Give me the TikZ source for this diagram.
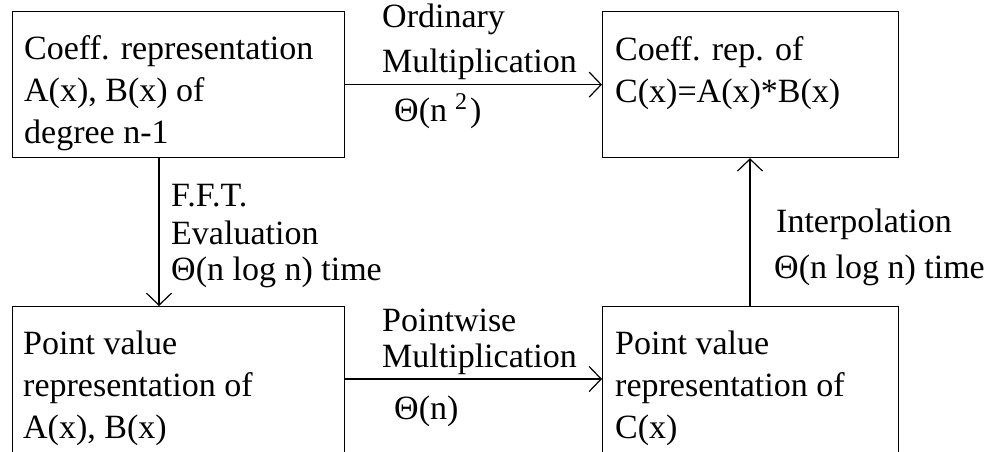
\documentclass[tikz,border=0pt]{standalone}
\usepackage{fontspec}
\setmainfont{Liberation Serif}
\usetikzlibrary{arrows.meta}
\newcommand\mlines[1]{\begin{tabular}[t]{@{}l@{}}#1\end{tabular}}
\tikzset{
  box/.style={draw=black, line width=1.2pt, minimum width=#1, minimum height=146pt, anchor=north west, inner sep=0pt},
  txt/.style={anchor=base west, inner sep=0pt, font=\fontsize{34}{42}\selectfont},
  arr/.style={draw=black, line width=1.2pt, -{Straight Barb[length=12pt,width=25pt,line width=1.2pt]}}
}
\begin{document}
\begin{tikzpicture}[x=1pt,y=1pt]
\useasboundingbox (0,0) rectangle (992,-451);
\clip (0,0) rectangle (992,-451);
% boxes
\node[box=332pt] (A) at (12,-11) {};
\node[box=296pt] (B) at (602,-11) {};
\node[box=332pt] (C) at (12,-306) {};
\node[box=296pt] (D) at (602,-306) {};
% box texts
\node[txt] (tA) at (24,-59) {\mlines{Coeff. representation\\A(x), B(x) of\\degree n-1}};
\node[txt] (tB) at (615,-60) {\mlines{Coeff. rep. of\\C(x)=A(x)*B(x)}};
\node[txt] (tC) at (23,-354) {\mlines{Point value\\representation of\\A(x), B(x)}};
\node[txt] (tD) at (615,-354) {\mlines{Point value\\representation of\\C(x)}};
% connectors
\coordinate (fx) at (159,0);
\coordinate (ix) at (750,0);
\coordinate (py) at (0,-379);
\draw[arr] (A.east) -- (B.west);
\draw[arr] (C.east |- py) -- (D.west |- py);
\draw[arr] (A.south -| fx) -- (C.north -| fx);
\draw[arr] (D.north -| ix) -- (B.south -| ix);
% labels
\node[txt] (l1) at (382,-27) {Ordinary};
\node[txt] (l2) at (382,-72) {Multiplication};
\node[txt] (l3) at (394,-121) {Θ(n\hspace{8pt}\raisebox{12pt}{\fontsize{24}{24}\selectfont 2}\hspace{3pt})};
\node[txt] (l4) at (382,-331) {Pointwise};
\node[txt] (l5) at (382,-367) {Multiplication};
\node[txt] (l6) at (394,-419) {Θ(n)};
\node[txt] (l7) at (171,-206) {F.F.T.};
\node[txt] (l8) at (171,-244) {Evaluation};
\node[txt] (l9) at (171,-280) {Θ(n log n) time};
\node[txt] (l10) at (776,-232) {Interpolation};
\node[txt] (l11) at (774,-278) {Θ(n log n) time};
\end{tikzpicture}
\end{document}
